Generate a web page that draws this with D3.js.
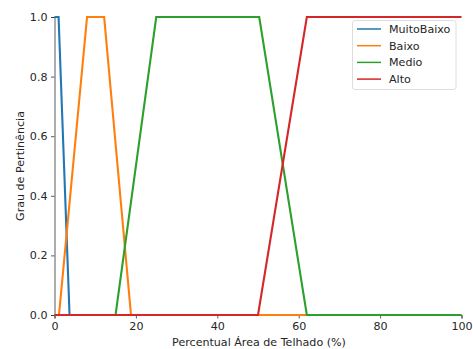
<!DOCTYPE html>
<html><head><meta charset="utf-8">
<script src="https://cdn.jsdelivr.net/npm/d3@7"></script>
<style>body{margin:0;background:#fff}svg{display:block}text{font-family:"DejaVu Sans",sans-serif}</style>
</head><body><svg id="c" width="473" height="349"></svg>
<script>
const seriesNames = ["MuitoBaixo","Baixo","Medio","Alto"];
const seriesColors = ["#1f77b4","#ff7f0e","#2ca02c","#d62728"];
// trapezoid breakpoints (x values) and membership values
const muitoBaixoX = [0, 0, 1, 3.7, 100];
const muitoBaixoY = [1, 1, 1, 0, 0];
const baixoX = [0, 1.1, 8, 12.2, 18.8, 100];
const baixoY = [0, 0, 1, 1, 0, 0];
const medioX = [0, 15, 25, 50.3, 62, 100];
const medioY = [0, 0, 1, 1, 0, 0];
const altoX = [0, 50, 62, 100];
const altoY = [0, 0, 1, 1];
const xTicks = [0,20,40,60,80,100];
const yTicks = [0,0.2,0.4,0.6,0.8,1.0];

const seriesX = [muitoBaixoX, baixoX, medioX, altoX];
const seriesY = [muitoBaixoY, baixoY, medioY, altoY];

const FS = 11.1;
const svg = d3.select("#c");
const L = 54.5, R = 461.5, T = 17, B = 315;
const x = d3.scaleLinear().domain([0,100]).range([L,R]);
const y = d3.scaleLinear().domain([0,1]).range([B,T]);

const xa = svg.append("g").attr("transform",`translate(0,${B})`)
  .call(d3.axisBottom(x).tickValues(xTicks).tickFormat(d3.format("d")).tickSize(3.5).tickPadding(3.5));
const ya = svg.append("g").attr("transform",`translate(${L},0)`)
  .call(d3.axisLeft(y).tickValues(yTicks).tickFormat(d3.format(".1f")).tickSize(3.5).tickPadding(3.5));
[xa,ya].forEach(a=>{
  a.selectAll("text").attr("font-size",FS).attr("fill","#262626").attr("font-family","DejaVu Sans");
  a.selectAll("line").attr("stroke","#333").attr("stroke-width",0.8);
  a.select(".domain").attr("stroke","#333").attr("stroke-width",0.8);
});

const line = d3.line().x(d=>x(d[0])).y(d=>y(d[1]));
seriesNames.forEach((n,i)=>{
  const pts = seriesX[i].map((v,j)=>[v, seriesY[i][j]]);
  svg.append("path").attr("d", line(pts)).attr("fill","none")
    .attr("stroke", seriesColors[i]).attr("stroke-width",2.1).attr("stroke-linejoin","miter");
});

svg.append("text").attr("x",259).attr("y",346).attr("text-anchor","middle")
  .attr("font-size",FS).attr("fill","#262626").text("Percentual Área de Telhado (%)");
svg.append("text").attr("transform",`translate(24,${(T+B)/2}) rotate(-90)`).attr("text-anchor","middle")
  .attr("font-size",FS).attr("fill","#262626").text("Grau de Pertinência");

// legend
const lg = svg.append("g");
lg.append("rect").attr("x",352.5).attr("y",20.5).attr("width",103.5).attr("height",69).attr("rx",2.5)
  .attr("fill","#fff").attr("fill-opacity",0.8).attr("stroke","#d6d6d6").attr("stroke-width",0.8);
seriesNames.forEach((n,i)=>{
  const yy = 29 + i*16.7;
  lg.append("line").attr("x1",357).attr("x2",381).attr("y1",yy).attr("y2",yy)
    .attr("stroke",seriesColors[i]).attr("stroke-width",1.5);
  lg.append("text").attr("x",389).attr("y",yy+4).attr("font-size",FS).attr("fill","#262626").text(n);
});
</script></body></html>
